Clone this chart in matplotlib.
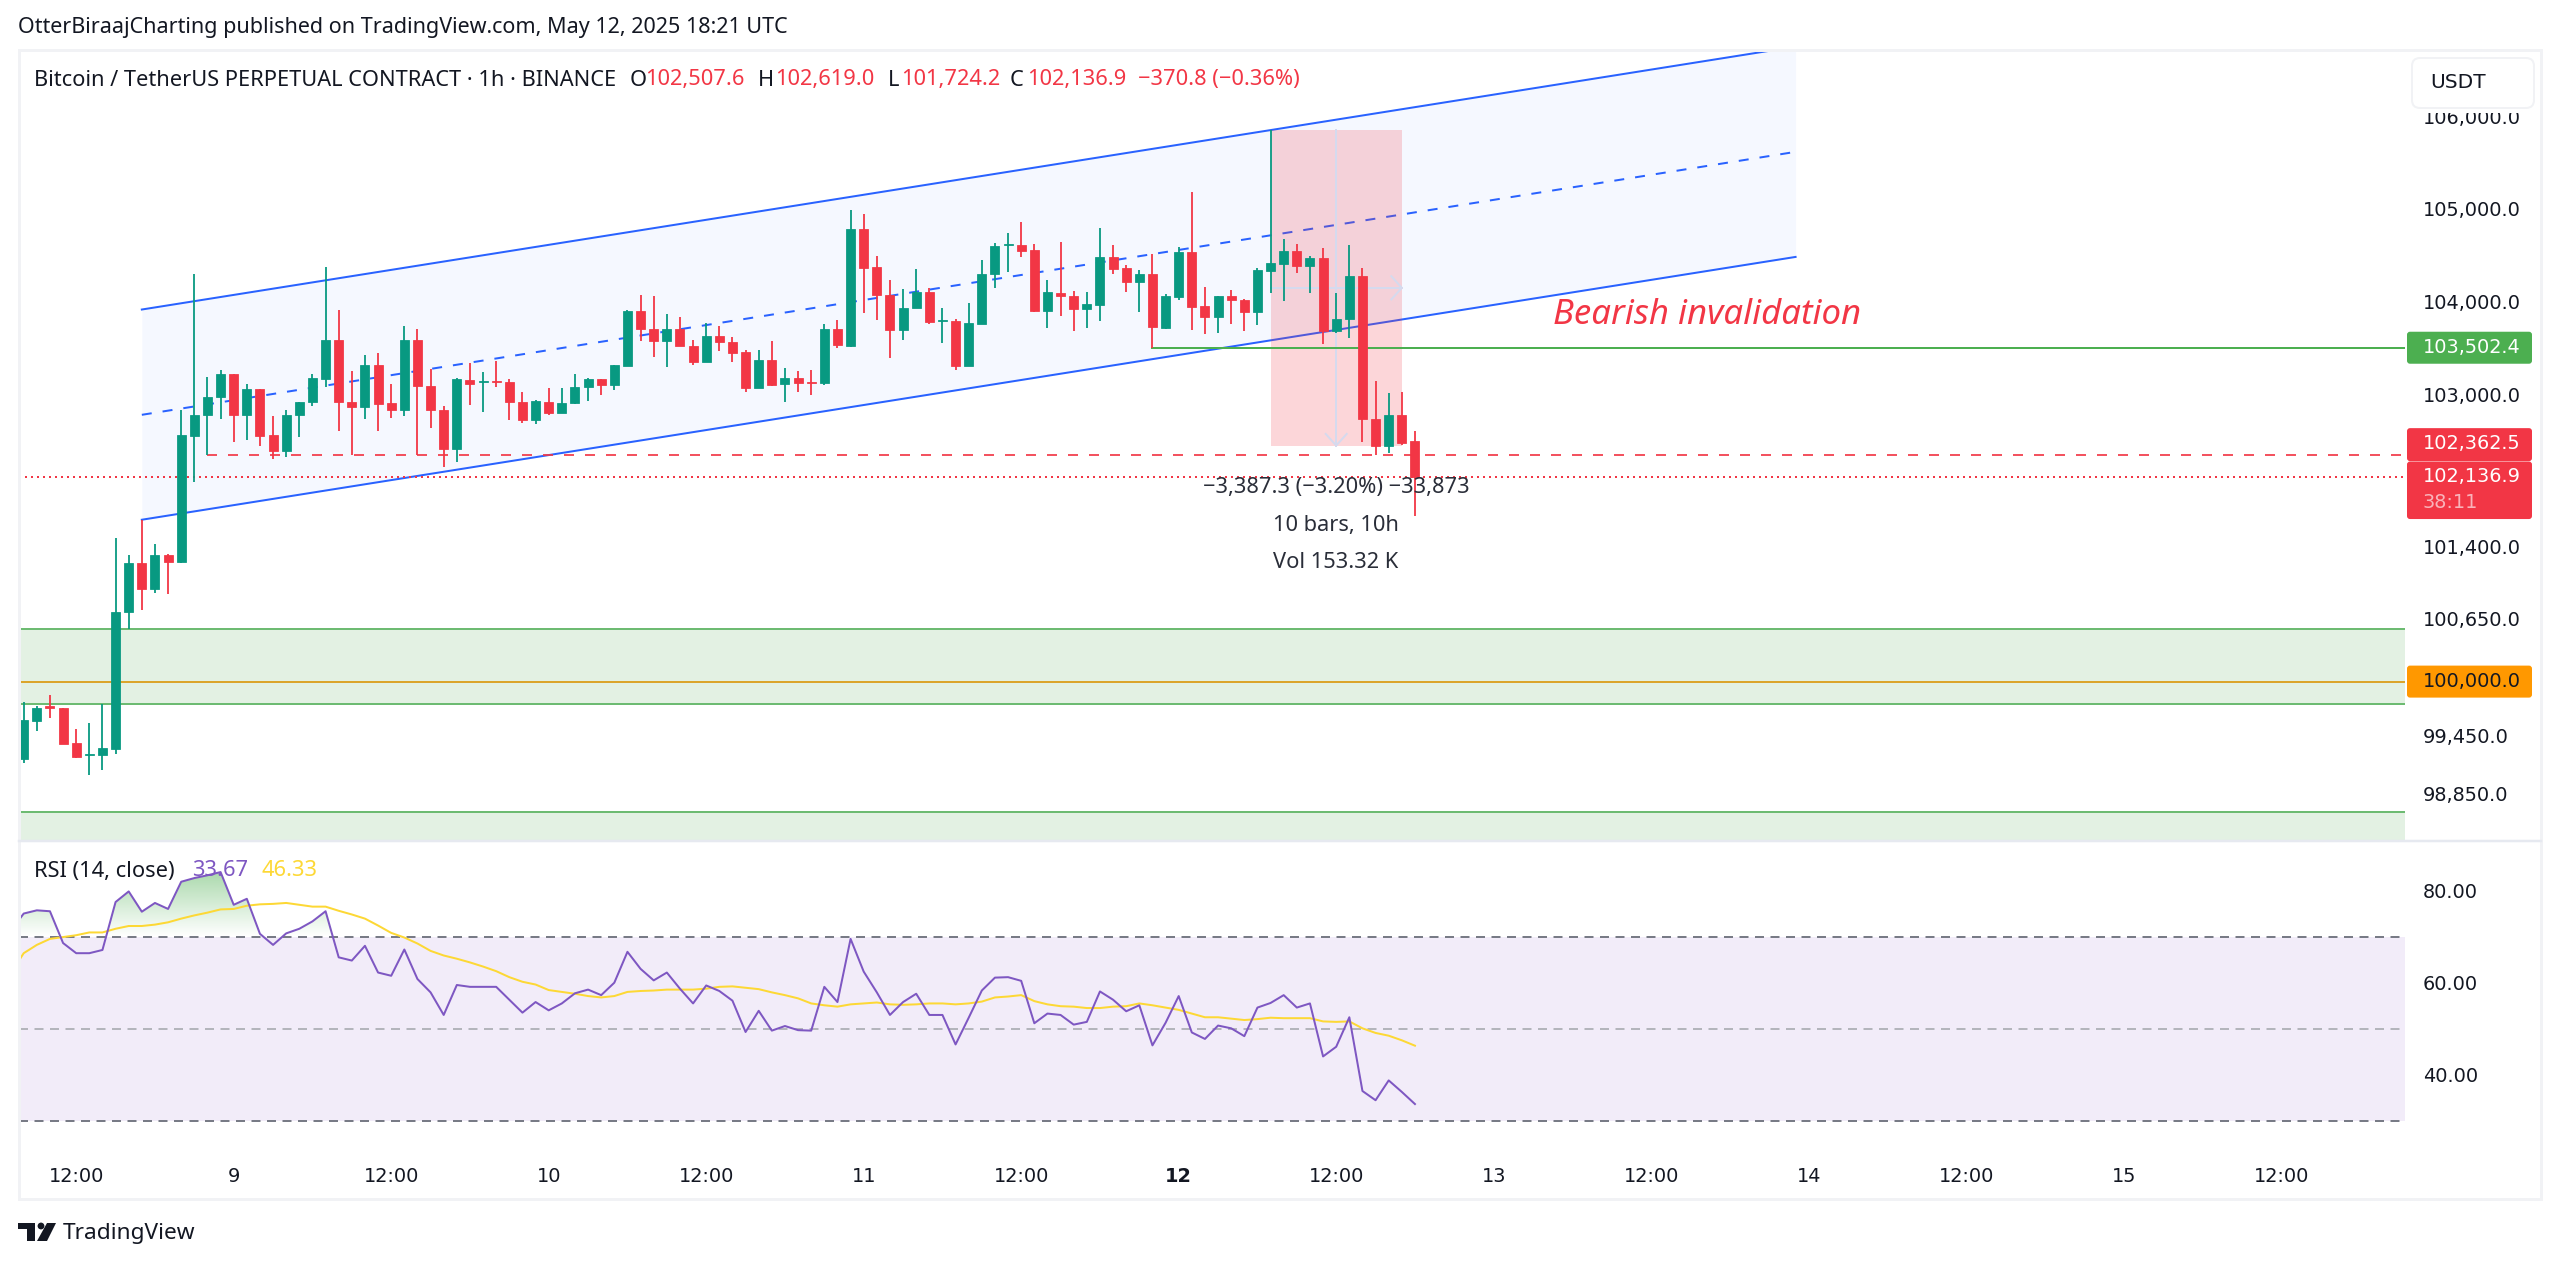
import numpy as np
import matplotlib
matplotlib.use("Agg")
import matplotlib.pyplot as plt
from matplotlib.colors import LinearSegmentedColormap
from matplotlib.patches import Rectangle, FancyBboxPatch, Polygon, Circle
from matplotlib.path import Path
from matplotlib.ticker import NullLocator, FixedLocator, FixedFormatter
from matplotlib.transforms import IdentityTransform

# ---------- data ----------
opens = [99203,99599,99744,99724,99367,99246,99242,99308,100717,101230,100960,101310,101242,102565,102784,102978,103222,102784,103059,102573,102404,102784,102930,103174,103586,102930,102873,103313,102910,102845,103586,103100,102841,102432,103161,103137,103149,103133,102930,102731,102930,102804,102910,103088,103169,103104,103305,
 103892,103706,103570,103706,103520,103346,103624,103563,103452,103072,103371,103114,103182,103140,103122,103706,103524,104774,104367,104072,103689,103925,104101,103785,103789,103306,103760,104291,104601,104601,104551,103900,104090,104061,103914,103964,104479,104356,104201,104295,103717,104047,104533,103950,103835,104051,
 104018,103886,104322,104404,104545,104383,104462,103680,103808,104268,102747,102462,102786,102507.6]
highs = [99791,99752,99858,99724,99511,99574,99767,101490,101310,101682,101430,101326,102845,104295,103190,103263,103222,103120,103059,102772,102841,102930,103222,104365,103908,103251,103423,103443,103112,103737,103705,103271,102881,103185,103337,103243,103361,103169,103027,102942,103072,103072,103218,103182,103169,103321,103904,
 104072,104054,103860,103832,103588,103767,103738,103617,103474,103474,103577,103282,103253,103264,103756,103799,104980,104940,104483,104227,104133,104349,104141,103932,103814,103982,104439,104623,104738,104857,104612,104227,104633,104112,104094,104785,104601,104389,104331,104511,104079,104583,105180,104155,104051,104123,
 104025,104358,105851,104674,104617,104484,104573,104086,104606,104362,103145,103016,103030,102619.0]
lows = [99164,99492,99626,99359,99211,99046,99093,99261,100542,100740,100920,100908,101226,102077,102362,102743,102505,102525,102464,102327,102347,102553,102885,103084,102614,102362,102743,102622,102752,102772,102362,102646,102238,102286,102893,102824,103084,102731,102703,102695,102784,102804,102905,102934,102995,103051,103305,
 103570,103399,103292,103520,103314,103346,103467,103346,103026,103072,103093,102923,103033,103004,103107,103495,103513,103871,103803,103396,103588,103925,103753,103549,103263,103306,103760,104144,104309,104472,103882,103710,103842,103678,103717,103792,104291,104097,103882,103502,103703,104018,103689,103649,103656,103760,
 103684,103744,104090,104007,104300,104090,103541,103655,103601,102497,102362,102387,102469,101724.2]
closes = [99610,99728,99728,99359,99230,99254,99316,100721,101230,100960,101310,101245,102573,102792,102978,103222,102784,103059,102565,102404,102792,102930,103182,103586,102926,102873,103313,102905,102845,103586,103096,102836,102432,103165,103120,103149,103141,102926,102731,102934,102804,102918,103088,103173,103104,103313,103896,
 103699,103570,103706,103520,103346,103627,103560,103449,103072,103371,103107,103182,103125,103129,103706,103527,104774,104360,104065,103692,103932,104101,103782,103796,103306,103767,104295,104594,104612,104544,103900,104094,104054,103914,103968,104479,104349,104201,104295,103720,104051,104533,103943,103832,104051,104008,
 103886,104333,104408,104545,104383,104462,103684,103812,104268,102740,102462,102786,102490,102136.9]

rsi_x_start = -1
rsi = [71.2,75.0,75.7,75.5,68.6,66.4,66.4,67.1,77.5,79.8,75.4,77.3,76.0,81.9,82.7,83.3,84.0,76.9,78.2,70.6,68.2,70.7,71.7,73.3,75.5,65.5,64.8,68.0,62.2,61.5,67.2,60.8,57.9,53.0,59.5,59.1,59.1,59.1,56.3,53.5,55.8,54.0,55.5,57.7,58.5,57.3,60.0,66.7,63.0,60.5,62.2,58.7,55.5,
 59.4,58.2,56.1,49.3,53.9,49.6,50.6,49.7,49.6,59.1,55.8,69.5,62.4,57.9,53.0,55.8,57.6,53.0,53.0,46.6,52.4,58.3,61.1,61.2,60.4,51.2,53.3,53.0,50.9,51.5,58.1,56.3,53.8,55.1,46.4,51.3,57.1,49.2,47.8,50.7,50.1,48.4,54.6,55.6,57.3,54.6,55.5,44.0,46.1,52.5,36.5,34.5,38.8,36.3,33.67]
rsi_ma = [62.0,66.4,68.2,69.5,69.9,70.3,70.9,70.9,71.7,72.3,72.3,72.6,73.1,73.9,74.6,75.2,75.9,76.0,76.7,77.0,77.1,77.3,76.9,76.5,76.5,75.6,74.8,73.9,72.4,70.8,69.8,68.5,66.9,65.9,65.2,64.4,63.5,62.5,61.2,60.2,59.6,58.4,58.0,57.6,57.1,56.8,57.1,58.0,58.2,58.3,58.5,58.5,58.5,
 58.7,59.1,59.2,58.9,58.6,57.9,57.3,56.6,55.5,55.1,54.8,55.3,55.5,55.7,55.3,55.2,55.3,55.5,55.5,55.3,55.5,55.9,56.8,57.0,57.3,56.0,55.3,54.9,54.8,54.5,54.5,54.8,54.9,55.5,55.1,54.6,54.1,53.3,52.5,52.5,52.2,51.9,52.1,52.4,52.3,52.3,52.3,51.6,51.5,51.6,50.1,49.1,48.5,47.5,46.33]

price_ticks = [106000,105000,104000,103000,101400,100650,99450,98850]
price_tick_labels = ["106,000.0","105,000.0","104,000.0","103,000.0","101,400.0","100,650.0","99,450.0","98,850.0"]
rsi_ticks = [80,60,40]
rsi_tick_labels = ["80.00","60.00","40.00"]
time_tick_bars = [4,16,28,40,52,64,76,88,100,112,124,136,148,160,172]
time_tick_labels = ["12:00","9","12:00","10","12:00","11","12:00","12","12:00","13","12:00","14","12:00","15","12:00"]

channel_x = [9,135]
channel_low = [101683,104476]
channel_mid = [102789,105614]
channel_up = [103911,106766]
zone1 = [99768,100543]
zone2 = [97000,98669]
level_round = 100000.0
level_invalid = 103502.4
level_dashed = 102362.5
last_close = 102136.9
measure_x = [95,105]
measure_y = [102463.7,105851]

UP, DOWN = "#089981", "#F23645"
W, H = 2560, 1266
TXT = 15.7
plt.rcParams["lines.scale_dashes"] = False
plt.rcParams["font.family"] = ["DejaVu Sans"]
fig = plt.figure(figsize=(W/100, H/100), dpi=100, facecolor="white")
px = 0.72
X0, X1 = 19, 2405
BAR0, STEP = 23.7, 13.125
xlim = ((X0-BAR0)/STEP, (X1-BAR0)/STEP)

def axrect(top, bottom):
    return [X0/W, 1-bottom/H, (X1-X0)/W, (bottom-top)/H]

ax = fig.add_axes(axrect(50, 841))
ax.set_yscale("log")
ax.set_xlim(*xlim)
ax.set_ylim(98370, 106729)
rs = fig.add_axes(axrect(841, 1156), sharex=None)
rs.set_xlim(*xlim)
rs.set_ylim(22.4, 90.74)
for a in (ax, rs):
    a.set_facecolor("none")
    for s in a.spines.values():
        s.set_visible(False)

# zones
ax.axhspan(zone1[0], zone1[1], color="#E3F1E3", lw=0, zorder=1)
ax.axhspan(zone2[0], zone2[1], color="#E3F1E3", lw=0, zorder=1)
for v in (zone1[0], zone1[1], zone2[1]):
    ax.axhline(v, color="#6DBB72", lw=2*px, zorder=1.5)
ax.axhline(level_round, color="#DBA52C", lw=2*px, zorder=1.6)

# channel
ax.fill_between(channel_x, channel_low, channel_up, color="#F5F8FF", lw=0, zorder=2)
ax.plot(channel_x, channel_low, color="#2962FF", lw=2*px, zorder=2.5)
ax.plot(channel_x, channel_up, color="#2962FF", lw=2*px, zorder=2.5)
ax.plot(channel_x, channel_mid, color="#2962FF", lw=2*px, ls=(0, (10*px, 11*px)), zorder=2.5)

# measure tool
ax.fill_between(measure_x, [measure_y[0]]*2, [measure_y[1]]*2, color=DOWN, alpha=0.2, lw=0, zorder=3)
mx = sum(measure_x)/2
my = (measure_y[0]*measure_y[1])**0.5
ax.plot([mx, mx], measure_y, color="#D5DAEE", lw=2*px, zorder=3.1)
ax.plot(measure_x, [my, my], color="#D5DAEE", lw=2*px, zorder=3.1)
ax.plot([mx-0.8, mx, mx+0.8], [measure_y[0]*1.0012, measure_y[0], measure_y[0]*1.0012], color="#D5DAEE", lw=2*px, zorder=3.1)
ax.plot([measure_x[1]-0.8, measure_x[1], measure_x[1]-0.8], [my*1.0012, my, my/1.0012], color="#D5DAEE", lw=2*px, zorder=3.1)

# levels
ax.plot([86, xlim[1]], [level_invalid]*2, color="#4CAF50", lw=2*px, zorder=3.5)
ax.plot([14, xlim[1]], [level_dashed]*2, color=DOWN, lw=1.7*px, ls=(0, (10*px, 11*px)), zorder=3.5)
ax.axhline(last_close, color=DOWN, lw=2*px, ls=(0, (2*px, 4*px)), zorder=3.5)

# candles
idx = np.arange(len(opens))
o, h, l, c = map(np.array, (opens, highs, lows, closes))
cols = [UP if b >= a else DOWN for a, b in zip(o, c)]
ax.vlines(idx, l, h, colors=cols, lw=1.8*px, zorder=4)
ax.bar(idx, np.abs(c-o), bottom=np.minimum(o, c), width=9.0/STEP, color=cols, edgecolor=cols, lw=0.8*px, zorder=4.1)

ax.set_xticks([])
ax.yaxis.set_major_locator(FixedLocator(price_ticks))
ax.yaxis.set_major_formatter(FixedFormatter(price_tick_labels))
ax.yaxis.set_minor_locator(NullLocator())
ax.tick_params(axis="y", which="both", length=0, pad=13, labelright=True, labelleft=False, labelsize=13.9, labelcolor="#131722")

# RSI
rx = np.arange(len(rsi)) + rsi_x_start
r = np.array(rsi)
rs.axhspan(30, 70, color="#F2ECF9", lw=0, zorder=1)
cm = LinearSegmentedColormap.from_list("g", [(76/255,175/255,80/255,0.0), (76/255,175/255,80/255,0.48)])
grad = np.linspace(1, 0, 64).reshape(-1, 1)
im = rs.imshow(grad, extent=[xlim[0], xlim[1], 70, 84.5], aspect="auto", cmap=cm, zorder=1.5, interpolation="bilinear")
poly = rs.fill_between(rx, r, 70, where=r >= 70, interpolate=True, color="none")
im.set_clip_path(Path.make_compound_path(*poly.get_paths()), rs.transData)
poly.remove()
rs.set_xlim(*xlim)
rs.set_ylim(22.4, 90.74)
rs.axhline(70, color="#787B86", lw=2*px, ls=(0, (9*px, 6.5*px)), zorder=2)
rs.axhline(50, color="#B4B5BC", lw=2*px, ls=(0, (9*px, 6.5*px)), zorder=2)
rs.axhline(30, color="#787B86", lw=2*px, ls=(0, (9*px, 6.5*px)), zorder=2)
rs.plot(rx, rsi_ma, color="#FDD835", lw=2*px, zorder=3)
rs.plot(rx, rsi, color="#7E57C2", lw=2*px, zorder=3.2)
rs.set_xticks(time_tick_bars)
rs.set_xticklabels(time_tick_labels)
rs.tick_params(axis="x", length=0, pad=8, labelsize=13.9, labelcolor="#131722")
rs.get_xticklabels()[7].set_fontweight("bold")
rs.yaxis.set_major_locator(FixedLocator(rsi_ticks))
rs.yaxis.set_major_formatter(FixedFormatter(rsi_tick_labels))
rs.tick_params(axis="y", length=0, pad=13, labelright=True, labelleft=False, labelsize=13.9, labelcolor="#131722")

fig.canvas.draw()
ID = IdentityTransform()

def T(x, y, s, size=TXT, color="#131722", ha="left", va="center", family="Noto Sans", z=8, **kw):
    return fig.text(x, H-y, s, transform=ID, fontsize=size, color=color, ha=ha, va=va, family=family, zorder=z, **kw)

def price_y(p):
    return H - ax.transData.transform((0, p))[1]

def badge(y0, y1, fc, z=6):
    fig.add_artist(FancyBboxPatch((2407, H-y1), 125, y1-y0, boxstyle="round,pad=0,rounding_size=3", fc=fc, ec="none", transform=ID, zorder=z))

# frame
for (x0, y0, x1, y1) in [(19, 50, 2541, 50), (19, 1199, 2541, 1199), (19, 50, 19, 1199), (2541, 50, 2541, 1199)]:
    fig.add_artist(plt.Line2D([x0, x1], [H-y0, H-y1], color="#F1F2F5", lw=3*px, transform=ID, zorder=5))
fig.add_artist(plt.Line2D([19, 2541], [H-841]*2, color="#E6E9F0", lw=2.5*px, transform=ID, zorder=5))

# USDT button (also hides the top of the highest tick label)
fig.add_artist(Rectangle((2412, H-113), 122, 8, fc="white", ec="none", transform=ID, zorder=5.5))
fig.add_artist(FancyBboxPatch((2412, H-108), 122, 50, boxstyle="round,pad=0,rounding_size=8", fc="white", ec="#F1F2F5", lw=2*px, transform=ID, zorder=6))
T(2430, 83, "USDT", size=14.5, family="DejaVu Sans")

# price badges
yi = price_y(level_invalid)
badge(yi-16, yi+16, "#4CAF50")
T(2423, yi, "103,502.4", size=13.9, color="white", family="DejaVu Sans")
yd = price_y(level_dashed)
badge(yd-27, yd+6, DOWN)
T(2423, yd-12, "102,362.5", size=13.9, color="white", family="DejaVu Sans")
yc = price_y(last_close)
badge(yc-15, yc+42.5, DOWN, z=6.1)
T(2423, yc, "102,136.9", size=13.9, color="white", family="DejaVu Sans")
T(2423, yc+26, "38:11", size=13.9, color="#F9B3BA", family="DejaVu Sans")
yr = price_y(level_round)
badge(yr-16, yr+16, "#FF9800")
T(2423, yr, "100,000.0", size=13.9, color="#131722", family="DejaVu Sans")

# header
T(18, 28, "OtterBiraajCharting published on TradingView.com, May 12, 2025 18:21 UTC", size=15.5)
T(34, 80, "Bitcoin / TetherUS PERPETUAL CONTRACT · 1h · BINANCE")
for x, s in [(630, "O"), (758, "H"), (888, "L"), (1010, "C")]:
    T(x, 80, s)
for x, s in [(645, "102,507.6"), (775, "102,619.0"), (901, "101,724.2"), (1027, "102,136.9"), (1138, "−370.8 (−0.36%)")]:
    T(x, 80, s, color=DOWN)

# measure labels
T(1336, 488, "−3,387.3 (−3.20%) −33,873", ha="center", color="#2A2E39")
T(1336, 525, "10 bars, 10h", ha="center", color="#2A2E39")
T(1336, 563, "Vol 153.32 K", ha="center", color="#2A2E39")

# annotation
T(1553, 315, "Bearish invalidation", size=25, color=DOWN, style="italic", family="Noto Sans")

# RSI legend
T(34, 871, "RSI (14, close)")
T(192, 871, "33.67", color="#7E57C2")
T(261, 871, "46.33", color="#FDD835")

# logo
fig.add_artist(Polygon([(18, H-1223), (35, H-1223), (35, H-1241), (27, H-1241), (27, H-1229), (18, H-1229)], closed=True, fc="#131722", ec="none", transform=ID, zorder=8))
fig.add_artist(Circle((41, H-1226), 3.4, fc="#131722", ec="none", transform=ID, zorder=8))
fig.add_artist(Polygon([(47, H-1223), (56, H-1223), (47, H-1241), (37, H-1241)], closed=True, fc="#131722", ec="none", transform=ID, zorder=8))
T(63, 1233, "TradingView", size=16.3)

fig.savefig("out.png", dpi=100, facecolor="white")
